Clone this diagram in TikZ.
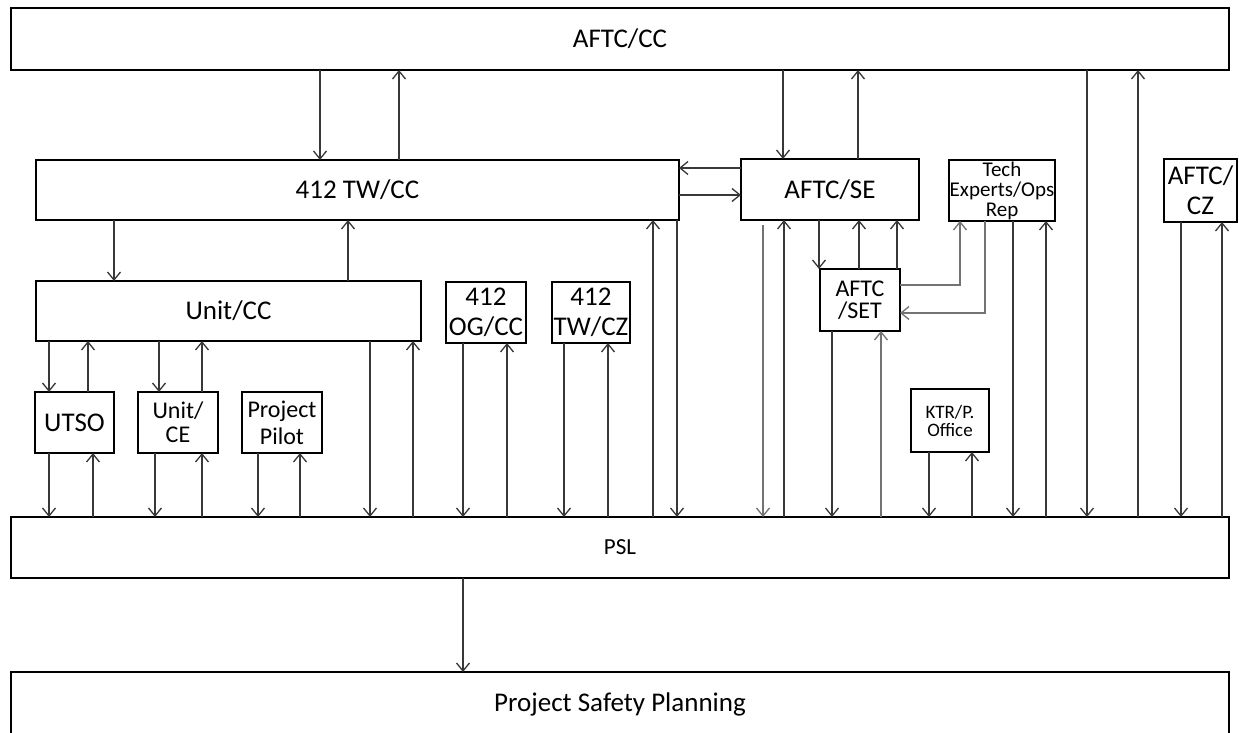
\documentclass[tikz,border=0pt]{standalone}
\usepackage{fontspec}
\setmainfont{Carlito}
\usetikzlibrary{arrows.meta}
\newcommand{\fs}[2]{\fontsize{#1}{#2}\selectfont}
\newcommand{\mybox}[7]{\node[bx,font=#1,minimum width=#4pt-#2pt,minimum height=#5pt-#3pt] (#6) at ({(#2+#4)/2},{(#3+#5)/2}) {#7};}
\newcommand{\vdn}[4][]{\draw[arr,#1] (#2.south -| #4,0) -- (#3.north -| #4,0);}
\newcommand{\vup}[4][]{\draw[arr,#1] (#2.north -| #4,0) -- (#3.south -| #4,0);}
\begin{document}
\begin{tikzpicture}[x=1pt,y=-1pt,
  bx/.style={draw=black,line width=2.6pt,fill=white,inner sep=0pt,outer sep=0pt,align=center,text=black},
  arr/.style={draw=black!78,line width=1.3pt,-{Straight Barb[length=8pt,width=13pt,line width=1.3pt]}},
  garr/.style={arr,draw=black!55}]
\useasboundingbox (0,0) rectangle (1239,733);
\fill[white] (0,0) rectangle (1239,733);
% boxes
\mybox{\fs{27}{30}}{11}{8}{1229}{70}{cc}{AFTC/CC}
\mybox{\fs{27}{30}}{36}{160}{679}{220}{tw}{412 TW/CC}
\mybox{\fs{27}{30}}{741}{159}{919}{220}{se}{AFTC/SE}
\mybox{\fs{21}{20}}{949}{160}{1055}{221}{tech}{Tech\\Experts/Ops\\Rep}
\mybox{\fs{27}{30}}{1164}{159}{1237}{222}{cz}{AFTC/\\CZ}
\mybox{\fs{27}{30}}{36}{281}{421}{341}{ucc}{Unit/CC}
\mybox{\fs{27}{30}}{446}{282}{526}{343}{og}{412\\OG/CC}
\mybox{\fs{27}{30}}{552}{282}{630}{343}{twcz}{412\\TW/CZ}
\mybox{\fs{24}{22}}{820}{269}{900}{331}{set}{AFTC\\/SET}
\mybox{\fs{27}{30}}{35}{392}{114}{453}{utso}{UTSO}
\mybox{\fs{24}{24}}{138}{392}{218}{453}{uce}{Unit/\\CE}
\mybox{\fs{24}{27}}{242}{392}{322}{453}{pp}{Project\\Pilot}
\mybox{\fs{19}{18}}{911}{389}{989}{452}{ktr}{KTR/P.\\Office}
\mybox{\fs{23}{28}}{11}{517}{1229}{578}{psl}{PSL}
\mybox{\fs{23}{28}}{11}{672}{1229}{745}{psp}{}
\node[text=black,font=\fs{27}{30}] (psptext) at (620,704) {Project Safety Planning};
% AFTC/CC links
\vdn{cc}{tw}{320}
\vup{tw}{cc}{399}
\vdn{cc}{se}{783}
\vup{se}{cc}{858}
\vdn{cc}{psl}{1087}
\vup{psl}{cc}{1138}
% 412 TW/CC <-> AFTC/SE
\draw[arr] (se.west |- 0,168) -- (tw.east |- 0,168);
\draw[arr] (tw.east |- 0,195) -- (se.west |- 0,195);
% 412 TW/CC links
\vdn{tw}{ucc}{114}
\vup{ucc}{tw}{348}
\vup{psl}{tw}{653}
\vdn{tw}{psl}{677}
% AFTC/SE links
\draw[garr] ([yshift=-5pt]se.south -| 763,0) -- (psl.north -| 763,0);
\vup{psl}{se}{784}
\vdn{se}{set}{819}
\vup{set}{se}{859}
\vup{set}{se}{897}
% AFTC/SET <-> Tech
\draw[garr] (set.east |- 0,285) -| (tech.south -| 960,0);
\draw[garr] (tech.south -| 985,0) |- (set.east |- 0,313);
% AFTC/SET <-> PSL
\vdn{set}{psl}{832}
\vup[garr]{psl}{set}{881}
% KTR
\vdn{ktr}{psl}{929}
\vup{psl}{ktr}{972}
% Tech
\vdn{tech}{psl}{1013}
\vup{psl}{tech}{1046}
% AFTC/CZ
\vdn{cz}{psl}{1181}
\vup{psl}{cz}{1222}
% Unit/CC, 412 OG/CC, 412 TW/CZ
\vdn{ucc}{psl}{370}
\vup{psl}{ucc}{413}
\vdn{og}{psl}{463}
\vup{psl}{og}{507}
\vdn{twcz}{psl}{564}
\vup{psl}{twcz}{608}
% small boxes
\vdn{ucc}{utso}{49}
\vup{utso}{ucc}{88}
\vdn{utso}{psl}{49}
\vup{psl}{utso}{93}
\vdn{ucc}{uce}{159}
\vup{uce}{ucc}{202}
\vdn{uce}{psl}{155}
\vup{psl}{uce}{202}
\vdn{pp}{psl}{258}
\vup{psl}{pp}{300}
% PSL -> Project Safety Planning
\vdn{psl}{psp}{463}
\end{tikzpicture}
\end{document}
